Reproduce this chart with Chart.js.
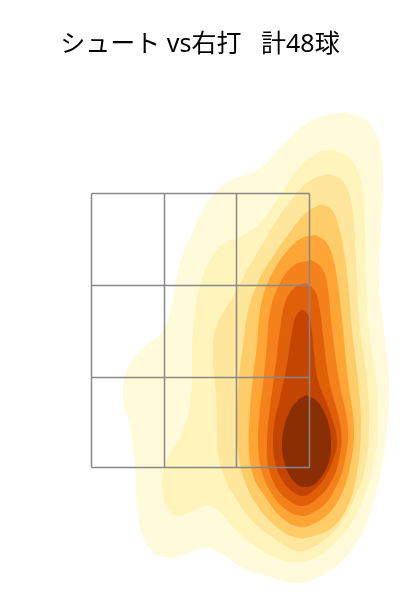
<!DOCTYPE html>
<html><head><meta charset="utf-8">
<script src="https://cdn.jsdelivr.net/npm/chart.js@4"></script>
<style>html,body{margin:0;padding:0;background:#fff}#w{width:400px;height:600px}</style>
</head><body><div id="w"><canvas id="c" width="400" height="600"></canvas></div>
<script>
const titleText = 'シュート vs右打   計48球';
const level1 = [[347,112],[365,119],[375,132],[381,152],[383,182],[381,228],[379,280],[384,330],[389,380],[387,430],[381,470],[372,507],[360,537],[343,560],[323,575],[297,583],[270,577],[243,568],[223,555],[208,548],[187,553],[170,558],[153,552],[143,537],[137,507],[135,463],[130,427],[123,397],[128,367],[142,349],[162,332],[171,307],[180,263],[192,233],[207,203],[227,182],[245,175],[263,166],[280,148],[300,128],[320,117],[347,112]];
const level2 = [[333,150],[350,158],[358,172],[363,192],[365,230],[366,280],[369,330],[376,380],[378,430],[372,470],[362,503],[349,527],[333,545],[317,557],[295,562],[270,555],[250,542],[233,527],[220,512],[208,506],[192,511],[178,516],[167,507],[162,487],[165,465],[183,430],[191,397],[192,347],[195,313],[200,285],[209,262],[223,244],[243,235],[260,223],[277,200],[297,170],[317,153],[333,150]];
const level3 = [[328,174],[342,180],[350,197],[354,223],[357,280],[360,330],[367,380],[369,430],[364,473],[355,497],[343,520],[328,537],[313,547],[297,551],[272,537],[253,522],[240,505],[227,483],[219,458],[217,430],[216,393],[213,363],[214,335],[221,316],[233,297],[247,270],[263,243],[280,215],[297,193],[311,180],[328,174]];
const level4 = [[322,204],[332,210],[339,227],[344,252],[348,283],[352,330],[358,380],[361,430],[356,478],[347,508],[333,527],[317,535],[298,538],[278,528],[259,508],[245,482],[238,450],[237,415],[239,377],[243,345],[249,307],[260,278],[274,255],[290,232],[307,212],[322,204]];
const level5 = [[316,235],[326,242],[333,258],[338,285],[343,330],[348,380],[354,430],[350,467],[342,493],[330,512],[315,523],[300,527],[282,518],[266,498],[254,478],[249,450],[250,410],[253,377],[257,345],[259,318],[264,293],[274,270],[288,250],[302,238],[316,235]];
const level6 = [[311,260],[321,267],[327,283],[332,330],[339,380],[348,430],[344,465],[336,487],[325,504],[312,513],[301,516],[285,509],[272,494],[262,472],[258,443],[260,410],[264,375],[267,345],[270,312],[279,285],[293,266],[311,260]];
const level7 = [[306,283],[315,291],[320,310],[323,335],[329,380],[341,430],[339,460],[331,482],[318,498],[303,506],[288,500],[275,485],[268,465],[267,443],[269,415],[273,385],[277,355],[280,330],[285,303],[294,288],[306,283]];
const level8 = [[302,309],[309,316],[312,332],[314,352],[318,380],[330,412],[337,440],[333,460],[324,479],[313,491],[304,496],[293,492],[282,480],[275,462],[273,440],[275,420],[280,398],[285,375],[289,352],[292,332],[296,316],[302,309]];
const level9 = [[306,395],[317,401],[325,414],[330,430],[331,445],[329,461],[322,476],[313,485],[306,487],[298,485],[290,476],[284,461],[282,445],[284,428],[289,413],[297,401],[306,395]];
const levels = [level1, level2, level3, level4, level5, level6, level7, level8, level9];
const levelColors = ['#FFFBDA','#FFF5BC','#FEE69C','#FECD6A','#FEA535','#F4811C','#E06009','#C44502','#8A2E04'];
const zoneX = [91.5,164.5,236.5,309.5];
const zoneY = [193.5,285.5,377.5,467.5];

const datasets = levels.map((pts, i) => ({
  data: pts.map(p => ({x:p[0], y:p[1]})),
  showLine:true, fill:'shape', backgroundColor:levelColors[i], borderWidth:0,
  pointRadius:0, tension:0.4, order:100-i
}));
const gridStyle = {showLine:true, fill:false, borderColor:'#888888', borderWidth:1.5, pointRadius:0, tension:0, order:1};
zoneX.forEach(x => datasets.push({...gridStyle, data:[{x, y:zoneY[0]},{x, y:zoneY[3]}]}));
zoneY.forEach(y => datasets.push({...gridStyle, data:[{x:zoneX[0], y},{x:zoneX[3], y}]}));

new Chart(document.getElementById('c'), {
  type:'scatter',
  data:{datasets},
  options:{
    responsive:false, animation:false, events:[],
    layout:{padding:0},
    plugins:{
      legend:{display:false}, tooltip:{enabled:false},
      title:{display:true, text:titleText, color:'#000',
        font:{family:'"Noto Sans", "Noto Sans CJK JP"', size:25, weight:'normal', lineHeight:1.2},
        padding:{top:29.5,bottom:0.5}}
    },
    scales:{
      x:{type:'linear', min:0, max:400, display:false},
      y:{type:'linear', min:60, max:600, reverse:true, display:false}
    }
  }
});
</script></body></html>
